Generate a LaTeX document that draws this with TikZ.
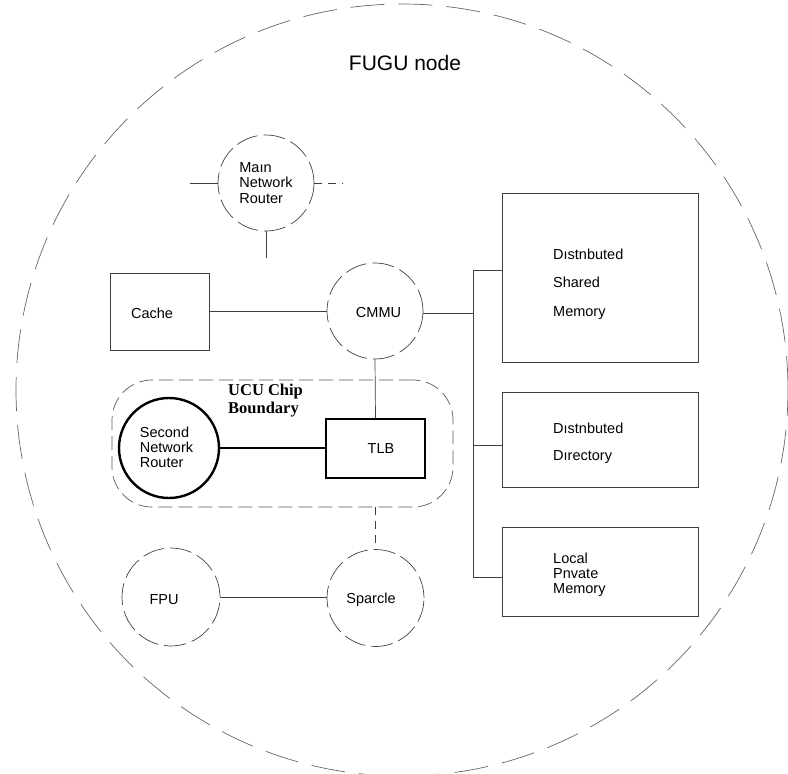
\documentclass[tikz,border=0pt]{standalone}
\usepackage{fontspec}
\setmainfont{Liberation Sans}
\newfontfamily\headserif{Liberation Serif}
\begin{document}
\begin{tikzpicture}[x=1pt,y=-1pt,
  thinline/.style={draw=black!75,line width=0.7pt},
  outline/.style={draw=black!60,line width=0.7pt,dash pattern=on 34pt off 14pt},
  roundunit/.style={circle,thinline,dash pattern=on 22pt off 6pt,minimum size=96pt,inner sep=0pt,
    align=left,font=\fontsize{14.5}{15.5}\selectfont},
  plainbox/.style={rectangle,thinline,inner sep=0pt},
  heavy/.style={draw=black,line width=2.4pt},
  labeltext/.style={inner sep=0pt,font=\fontsize{14.5}{15.5}\selectfont},
  boxtext/.style={align=left,anchor=west,inner sep=0pt,font=\fontsize{14.5}{15.5}\selectfont},
  chipline/.style={draw=black!65,line width=0.7pt,dash pattern=on 14pt off 6pt}]
\useasboundingbox (0,0) rectangle (788,774);

% node outline
\draw[outline] (402,390) circle [radius=386pt];
\node[font=\fontsize{21}{24}\selectfont] (title) at (405,63) {FUGU node};

% main network router and its links
\node[roundunit] (mnr) at (266,183) {Maın\\Network\\Router};
\coordinate (mnrL) at (190,183);
\coordinate (mnrR) at (343,183);
\coordinate (mnrD) at (266,258);
\draw[thinline] (mnrL) -- (mnr.west);
\draw[thinline,dash pattern=on 8pt off 6pt] (mnr.east) -- (mnrR);
\draw[thinline] (mnr.south) -- (mnrD);

% cache and CMMU
\node[plainbox,minimum width=99pt,minimum height=77pt] (cache) at (159.5,311.5) {};
\node[labeltext] (cachetext) at (152,313) {Cache};
\node[roundunit] (cmmu) at (375,311) {};
\node[labeltext] (cmmutext) at (378.5,313) {CMMU};
\draw[thinline] (cache.east) -- (cmmu.west |- cache.east);

% memory boxes on the right
\node[plainbox,minimum width=196pt,minimum height=169pt] (dsm) at (600,277.5) {};
\node[boxtext] (dsmtext) at (553,284) {Dıstnbuted\\[13pt]Shared\\[13pt]Memory};
\node[plainbox,minimum width=196pt,minimum height=95pt] (dd) at (600,439.5) {};
\node[boxtext] (ddtext) at (553,443) {Dıstnbuted\\[12pt]Dırectory};
\node[plainbox,minimum width=196pt,minimum height=89pt] (lpm) at (600,571.5) {};
\node[boxtext,font=\fontsize{14.5}{14.8}\selectfont] (lpmtext) at (553,575) {Local\\Pnvate\\Memory};

% memory bus
\coordinate (busTop) at (473,270);
\coordinate (busCmmu) at (473,313);
\coordinate (busDd) at (473,445);
\coordinate (busLpm) at (473,577);
\draw[thinline] (cmmu.east |- busCmmu) -- (busCmmu);
\draw[thinline] (busTop) -- (busLpm);
\draw[thinline] (busTop) -- (dsm.west |- busTop);
\draw[thinline] (busDd) -- (dd.west |- busDd);
\draw[thinline] (busLpm) -- (lpm.west |- busLpm);

% UCU chip boundary
\node[chipline,rectangle,rounded corners=40pt,minimum width=341pt,minimum height=127pt] (ucu) at (282.5,443.5) {};
\node[align=left,anchor=west,inner sep=0pt,font=\headserif\bfseries\fontsize{16.5}{18}\selectfont] (ucutext) at (228,401) {UCU Chip\\Boundary};
\node[circle,heavy,minimum size=100pt,inner sep=0pt] (snr) at (169,448) {};
\node[labeltext,align=left,font=\fontsize{14.5}{15}\selectfont] (snrtext) at (166.5,447) {Second\\Network\\Router};
\node[rectangle,heavy,minimum width=99pt,minimum height=59pt,inner sep=0pt] (tlb) at (375.5,448.5) {};
\node[labeltext] (tlbtext) at (381,449) {TLB};
\draw[thinline] (cmmu.south) -- (tlb.north);
\draw[heavy] (snr.east) -- (tlb.west |- snr.east);

% processor and FPU
\node[roundunit,minimum size=98pt] (fpu) at (171,597) {};
\node[labeltext] (fputext) at (164,600) {FPU};
\node[roundunit,minimum size=97pt] (sparcle) at (375.5,598) {};
\node[labeltext] (sparcletext) at (371,600) {Sparcle};
\draw[thinline] (fpu.east) -- (sparcle.west |- fpu.east);
\draw[thinline,dash pattern=on 8pt off 6pt] (sparcle.north |- ucu.south) -- (sparcle.north);
\end{tikzpicture}
\end{document}
